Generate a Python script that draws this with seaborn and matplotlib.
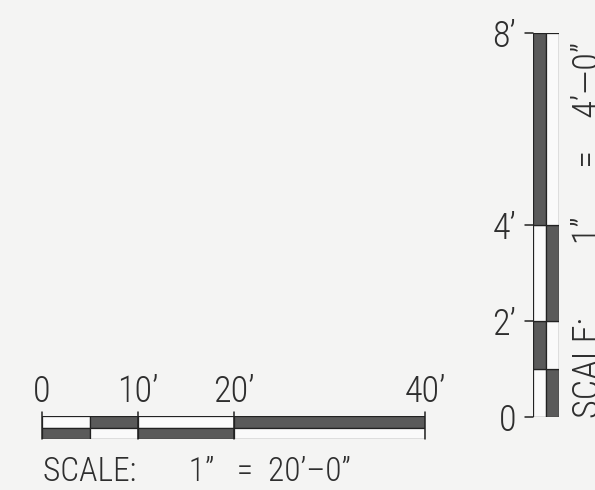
import matplotlib
matplotlib.use("Agg")
import matplotlib.pyplot as plt
from matplotlib import font_manager
import seaborn as sns

# horizontal scale bar (feet)
h_edges = [0, 5, 10, 20, 40]
h_top = ['white', 'dark', 'white', 'dark']
h_bottom = ['dark', 'white', 'dark', 'white']
h_ticks = [0, 10, 20, 40]
h_labels = ['0', '10’', '20’', '40’']
h_title = 'SCALE:       1”   =  20’–0”'

# vertical scale bar (feet)
v_edges = [0, 1, 2, 4, 8]
v_left = ['white', 'dark', 'white', 'dark']
v_right = ['dark', 'white', 'dark', 'white']
v_ticks = [0, 2, 4, 8]
v_labels = ['0', '2’', '4’', '8’']
v_title = 'SCALE:         1”      =    4’—0”'

sns.set_style("white")

names = {f.name for f in font_manager.fontManager.ttflist}
font = 'DejaVu Sans'
for cand in ['Liberation Sans Narrow', 'Roboto Condensed', 'Open Sans Condensed', 'Roboto']:
    if cand in names:
        font = cand
        break
plt.rcParams['font.family'] = [font, 'DejaVu Sans']
txt = dict(color='#2e2e2e', fontweight='light')

bg = '#f4f4f3'
shade = {'dark': '#5a5a5a', 'white': '#fafafa'}
W, H = 595, 490

fig = plt.figure(figsize=(5.95, 4.9), dpi=100, facecolor=bg)

# horizontal bar
axh = fig.add_axes([42 / W, (H - 439) / H, 383 / W, 23 / H])
for i in range(len(h_edges) - 1):
    w = h_edges[i + 1] - h_edges[i]
    axh.barh(1, w, left=h_edges[i], height=1, align='edge',
             color=shade[h_top[i]], edgecolor='#222', lw=0.9)
    axh.barh(0, w, left=h_edges[i], height=1, align='edge',
             color=shade[h_bottom[i]], edgecolor='#222', lw=0.9)
for t, lab in zip(h_ticks, h_labels):
    axh.plot([t, t], [0, 2.35], color='#222', lw=1.1, clip_on=False)
    axh.text(t, 3.2, lab, ha='center', va='baseline', fontsize=26, **txt)
axh.set_xlim(0, 40)
axh.set_ylim(0, 2)
axh.axis('off')
fig.text(43 / W, (H - 481) / H, h_title, ha='left', va='baseline',
         fontsize=24, **txt)

# vertical bar
axv = fig.add_axes([533 / W, (H - 417) / H, 26 / W, 384 / H])
for i in range(len(v_edges) - 1):
    hgt = v_edges[i + 1] - v_edges[i]
    axv.bar(0, hgt, bottom=v_edges[i], width=1, align='edge',
            color=shade[v_left[i]], edgecolor='#222', lw=0.9)
    axv.bar(1, hgt, bottom=v_edges[i], width=1, align='edge',
            color=shade[v_right[i]], edgecolor='#222', lw=0.9)
for t, lab in zip(v_ticks, v_labels):
    axv.plot([-0.6, 0], [t, t], color='#222', lw=1.1, clip_on=False)
    axv.text(-1.3, t, lab, ha='right', va='center_baseline', fontsize=26, **txt)
axv.set_xlim(0, 2)
axv.set_ylim(0, 8)
axv.axis('off')
fig.text(571 / W, (H - 418) / H, v_title, rotation=90, ha='left', va='bottom',
         fontsize=26, **txt)

fig.savefig('out.png', dpi=100, facecolor=bg)
